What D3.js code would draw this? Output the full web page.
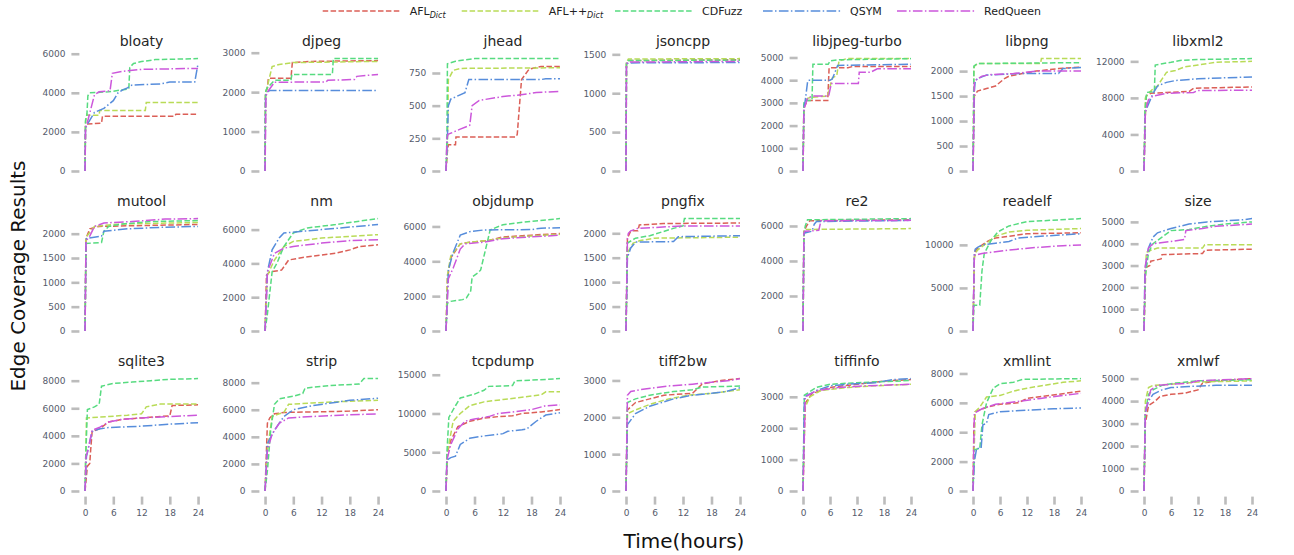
<!DOCTYPE html>
<html>
<head>
<meta charset="utf-8">
<script src="https://cdn.jsdelivr.net/npm/d3@7"></script>
<style>
	body { margin: 0; background: #fff; }
	text { font-family: "DejaVu Sans", sans-serif; }
</style>
</head>
<body>
<svg width="1294" height="555"></svg>
<script>
// legend / series
var fuzzers = ["AFL", "AFL++", "CDFuzz", "QSYM", "RedQueen"];
var fuzzerSub = ["Dict", "Dict", "", "", ""];
var colors = ["#db5f57", "#b9db57", "#57db80", "#578ddb", "#cc57db"];
var dashes = ["5.5,2.4", "5.5,2.4", "5.5,2.4", "9.6,2.4,1.5,2.4", "9.6,2.4,1.5,2.4"];

var targets = ["bloaty", "djpeg", "jhead", "jsoncpp", "libjpeg-turbo", "libpng", "libxml2",
	"mutool", "nm", "objdump", "pngfix", "re2", "readelf", "size",
	"sqlite3", "strip", "tcpdump", "tiff2bw", "tiffinfo", "xmllint", "xmlwf"];

var hourTicks = [0, 6, 12, 18, 24];

var yTicks = [
	[0, 2000, 4000, 6000], [0, 1000, 2000, 3000], [0, 250, 500, 750], [0, 500, 1000, 1500],
	[0, 1000, 2000, 3000, 4000, 5000], [0, 500, 1000, 1500, 2000], [0, 4000, 8000, 12000],
	[0, 500, 1000, 1500, 2000], [0, 2000, 4000, 6000], [0, 2000, 4000, 6000], [0, 500, 1000, 1500, 2000],
	[0, 2000, 4000, 6000], [0, 5000, 10000], [0, 1000, 2000, 3000, 4000, 5000],
	[0, 2000, 4000, 6000, 8000], [0, 2000, 4000, 6000, 8000], [0, 5000, 10000, 15000],
	[0, 1000, 2000, 3000], [0, 1000, 2000, 3000], [0, 2000, 4000, 6000, 8000], [0, 1000, 2000, 3000, 4000, 5000]
];

// [hour, edges] per fuzzer, order = fuzzers
var bloaty = [
	[[0,0],[0.1,2300],[0.4,2400],[3.5,2450],[3.7,2800],[19,2800],[19.3,2900],[24,2900]],
	[[0,0],[0.1,2500],[0.4,2900],[0.6,2850],[3,2850],[3.1,3100],[12.8,3100],[13,3500],[24,3500]],
	[[0,0],[0.1,2600],[0.4,2900],[0.6,3850],[1,4000],[5,4050],[9.3,4200],[9.5,5300],[10.3,5500],[12,5600],[15,5700],[24,5750]],
	[[0,0],[0.1,2200],[0.5,2400],[2,3000],[4,3200],[6,3600],[7,4000],[8,4150],[9,4250],[10,4400],[16,4450],[18,4550],[23.3,4550],[24,5500]],
	[[0,0],[0.1,2200],[0.4,2400],[2,3900],[3,4050],[5.3,4100],[5.8,5000],[8,5100],[12,5200],[24,5250]]
];
var djpeg = [
	[[0,0],[0.1,2000],[0.5,2100],[0.7,2350],[5.5,2350],[5.8,2750],[10,2780],[24,2800]],
	[[0,0],[0.1,2000],[0.4,2100],[1.5,2650],[3,2700],[6,2750],[24,2780]],
	[[0,0],[0.1,2000],[0.4,2100],[2,2300],[5.5,2300],[5.7,2450],[14.3,2450],[14.5,2850],[24,2850]],
	[[0,0],[0.1,1900],[0.4,2000],[1,2040],[24,2040]],
	[[0,0],[0.2,1900],[0.5,2000],[2,2250],[13,2260],[13.3,2300],[19,2320],[19.5,2400],[24,2450]]
];
var jhead = [
	[[0,0],[0.3,150],[0.5,200],[2,200],[2.1,260],[14.7,260],[15,280],[15.9,700],[17.5,780],[20,800],[24,800]],
	[[0,0],[0.3,200],[0.5,700],[1.5,770],[3,785],[24,790]],
	[[0,0],[0.2,250],[0.3,820],[2,840],[6,860],[24,860]],
	[[0,0],[0.2,150],[0.5,500],[1,550],[4,600],[4.8,700],[20,700],[21,705],[24,705]],
	[[0,0],[0.2,250],[0.4,280],[3,320],[5,350],[5.5,500],[7,540],[12,570],[15,580],[19,600],[24,610]]
];
var jsoncpp = [
	[[0,0],[0.1,1380],[0.5,1420],[24,1430]],
	[[0,0],[0.1,1400],[0.5,1440],[24,1445]],
	[[0,0],[0.1,1390],[0.5,1420],[24,1425]],
	[[0,0],[0.1,1370],[0.5,1390],[24,1395]],
	[[0,0],[0.1,1380],[0.5,1400],[24,1410]]
];
var libjpegTurbo = [
	[[0,0],[0.2,2800],[1,3100],[5.5,3100],[5.8,4550],[10,4550],[11,4600],[24,4600]],
	[[0,0],[0.2,2900],[1,3200],[2,3250],[5.5,3300],[6.5,4100],[7.5,4200],[8,4850],[9.7,4950],[24,4950]],
	[[0,0],[0.2,3000],[0.4,3100],[2,3100],[2.2,4700],[5.6,4700],[6,4850],[8,4900],[24,4950]],
	[[0,0],[0.2,2800],[0.5,3100],[1,3900],[1.2,4000],[6,4000],[6.5,4050],[7.7,4650],[24,4700]],
	[[0,0],[0.2,2700],[1,3200],[2,3300],[5.7,3300],[6.3,3850],[12.3,3850],[12.5,4350],[15,4350],[16.5,4500],[24,4500]]
];
var libpng = [
	[[0,0],[0.3,1500],[1,1600],[3,1650],[5,1700],[7,1850],[8,1900],[11,1950],[14,2000],[19,2050],[24,2080]],
	[[0,0],[0.2,2000],[0.3,2100],[1,2150],[15,2150],[15.2,2250],[24,2250]],
	[[0,0],[0.2,2100],[1,2150],[24,2170]],
	[[0,0],[0.3,1600],[0.5,1800],[1,1850],[3,1920],[10,1950],[19,1950],[20,2050],[24,2070]],
	[[0,0],[0.3,1800],[2,1900],[4,1930],[9,1950],[14,2000],[24,2000]]
];
var libxml2 = [
	[[0,0],[0.3,6000],[0.5,8200],[1.5,8500],[5,8600],[10,8700],[11,9050],[15,9100],[24,9200]],
	[[0,0],[0.3,8000],[1,8500],[2,9000],[3,9300],[5,10800],[7,11000],[9,11400],[12,11600],[16,11900],[24,12000]],
	[[0,0],[0.2,6500],[0.6,8600],[2.3,8700],[2.5,11600],[6,11900],[8,12100],[12,12200],[24,12300]],
	[[0,0],[0.3,6500],[2,8500],[3,9300],[5,9700],[7,9900],[12,10100],[24,10300]],
	[[0,0],[0.3,6500],[1,7800],[2,8200],[5,8500],[11,8600],[12,8800],[24,8850]]
];
var mutool = [
	[[0,0],[0.2,1900],[0.4,1950],[1,2100],[3,2150],[24,2190]],
	[[0,0],[0.2,1900],[0.4,1950],[2,2150],[5,2180],[8,2200],[24,2230]],
	[[0,0],[0.2,1800],[3.5,1820],[4,2050],[5,2150],[8,2200],[14,2250],[24,2270]],
	[[0,0],[0.2,1850],[0.3,1900],[3.5,1950],[4,2050],[9,2100],[16,2130],[24,2150]],
	[[0,0],[0.2,1850],[1,1950],[2,2150],[4,2220],[10,2250],[17,2300],[24,2310]]
];
var nm = [
	[[0,0],[0.3,3300],[1,3500],[3.5,3600],[5,4200],[8,4350],[12,4500],[15,4600],[18,4800],[20,5000],[24,5100]],
	[[0,0],[0.5,3300],[2,4200],[4,5000],[6,5300],[12,5500],[18,5600],[24,5700]],
	[[0,0],[0.5,1000],[1.5,3500],[2.5,4000],[4,5000],[6,5800],[9,6100],[15,6300],[20,6500],[24,6650]],
	[[0,0],[0.5,3500],[1.5,4800],[3,5500],[4,5800],[8,5900],[12,6000],[20,6200],[24,6300]],
	[[0,0],[0.5,3500],[2,4600],[4,4900],[6,5000],[12,5200],[18,5350],[24,5400]]
];
var objdump = [
	[[0,0],[0.3,3000],[1,4200],[3,5000],[5,5100],[9,5200],[12,5400],[18,5500],[24,5600]],
	[[0,0],[0.3,3200],[1,4300],[3,5000],[5,5100],[9,5200],[12,5350],[18,5450],[24,5550]],
	[[0,0],[0.3,1600],[1,1700],[3.5,1800],[4.3,1900],[5.2,2300],[5.5,3100],[6.8,3350],[7.3,3500],[9.3,5800],[12,6100],[18,6300],[24,6450]],
	[[0,0],[0.5,3500],[1.5,4500],[3,5500],[5,5700],[8,5800],[18,5820],[20,5900],[24,5920]],
	[[0,0],[0.5,3000],[1.5,3600],[3,4700],[4,5000],[8,5100],[12,5300],[18,5400],[24,5500]]
];
var pngfix = [
	[[0,0],[0.3,1900],[1,2050],[2.5,2050],[2.8,2170],[8,2200],[24,2210]],
	[[0,0],[0.3,1600],[1.5,1800],[3,1850],[6,1900],[24,1920]],
	[[0,0],[0.3,1800],[2,1900],[5,1950],[10,2100],[12,2150],[12.3,2300],[24,2300]],
	[[0,0],[0.3,1500],[1,1700],[2,1820],[10,1830],[11,1930],[24,1950]],
	[[0,0],[0.3,1900],[0.5,2000],[1,2050],[2.5,2100],[12,2150],[24,2150]]
];
var re2 = [
	[[0,0],[0.2,5700],[0.8,6000],[1.5,6300],[24,6350]],
	[[0,0],[0.2,5700],[0.4,5800],[24,5850]],
	[[0,0],[0.2,5500],[0.5,6000],[1,6350],[24,6420]],
	[[0,0],[0.2,5500],[0.4,5600],[2,5700],[2.5,6100],[3,6250],[24,6320]],
	[[0,0],[0.2,5600],[0.4,5700],[3.5,5750],[4,6300],[24,6320]]
];
var readelf = [
	[[0,0],[0.3,8500],[0.5,9300],[1.5,9800],[3.5,10500],[5,10800],[8,11000],[12,11300],[24,11400]],
	[[0,0],[0.3,8500],[0.5,9000],[1,9400],[2.5,10000],[5,11000],[8,11500],[12,11700],[24,11900]],
	[[0,0],[0.2,3000],[1.5,3000],[2,7000],[2.5,9000],[4,10500],[5.5,11500],[8,12200],[12,12700],[24,13050]],
	[[0,0],[0.3,9000],[0.5,9500],[1,9700],[2,10000],[5,10200],[8,10400],[10,10800],[15,11000],[24,11300]],
	[[0,0],[0.3,8800],[2,9000],[5,9200],[8,9400],[14,9700],[20,9900],[24,10000]]
];
var size = [
	[[0,0],[0.3,2900],[1.3,3000],[1.5,3200],[3.8,3300],[4,3500],[13,3550],[13.5,3700],[24,3750]],
	[[0,0],[0.5,3600],[1.5,3700],[3,3800],[13,3800],[13.5,3950],[24,3950]],
	[[0,0],[0.3,2500],[1,3600],[2,4000],[4,4300],[6,4600],[10,4650],[14,4800],[18,4900],[24,5000]],
	[[0,0],[0.2,2800],[1,3800],[2,4300],[3,4500],[6,4700],[10,4900],[14,5000],[22,5100],[24,5150]],
	[[0,0],[0.3,3000],[1,3800],[2,4000],[6,4100],[9,4200],[9.3,4600],[13,4700],[16,4800],[24,4900]]
];
var sqlite3 = [
	[[0,0],[0.5,1800],[1,2000],[1.2,3000],[1.5,4300],[3,4500],[5,5000],[8,5200],[12,5300],[18,5450],[18.5,6200],[24,6250]],
	[[0,0],[0.3,5300],[5,5400],[9,5500],[12,5600],[13,6100],[16,6300],[24,6300]],
	[[0,0],[0.1,2000],[0.5,5900],[2,6100],[3,6300],[3.5,7600],[6,7800],[10,7900],[14,8000],[18,8100],[24,8150]],
	[[0,0],[0.3,2500],[1.5,4300],[3,4500],[5,4600],[12,4700],[18,4850],[24,4950]],
	[[0,0],[0.2,2500],[0.5,2800],[1.5,4400],[3,4600],[5,5000],[8,5200],[12,5300],[18,5400],[24,5500]]
];
var strip = [
	[[0,0],[0.5,5000],[1,5400],[2,5700],[4,5800],[12,5850],[18,5900],[24,6000]],
	[[0,0],[0.5,3000],[1.5,5500],[3,5700],[4,5800],[5,6400],[10,6500],[16,6600],[24,6700]],
	[[0,0],[0.5,1500],[1.2,4500],[2,6400],[3,6800],[6,7000],[8,7200],[8.5,7600],[14,7800],[20,7900],[21,8300],[24,8300]],
	[[0,0],[0.5,3500],[2,4500],[4,5500],[6,6000],[10,6300],[14,6500],[18,6700],[24,6850]],
	[[0,0],[0.5,3000],[1.5,4200],[3,5000],[5,5400],[10,5500],[16,5600],[24,5700]]
];
var tcpdump = [
	[[0,0],[0.3,5000],[1,6500],[2.5,8300],[5,9000],[8,9400],[11,9600],[14,9700],[16,10000],[20,10200],[24,10500]],
	[[0,0],[0.3,5000],[1.5,9000],[3,10000],[5,11000],[8,11500],[12,11800],[16,12100],[20,12400],[21,12800],[24,12800]],
	[[0,0],[0.2,5000],[0.6,9500],[2,11000],[3,12000],[6,12500],[8,13000],[9,13500],[14,13600],[14.5,14200],[18,14300],[24,14500]],
	[[0,0],[0.2,4000],[1,4300],[2,4500],[3,6000],[5,6800],[8,7100],[12,7400],[13,7700],[16,7900],[17,8000],[19,9000],[21,9800],[24,10100]],
	[[0,0],[0.2,4000],[1,6000],[2.5,8000],[4,9000],[6,9300],[9,9600],[11,10000],[14,10200],[18,10500],[21,11000],[24,11100]]
];
var tiff2bw = [
	[[0,0],[0.3,2200],[2,2400],[5,2500],[8,2600],[14,2650],[16,2900],[20,3000],[24,3050]],
	[[0,0],[0.3,2100],[2,2200],[5,2350],[9,2500],[13,2600],[18,2650],[24,2750]],
	[[0,0],[0.3,2400],[2,2500],[5,2600],[10,2700],[14,2750],[16,2820],[24,2850]],
	[[0,0],[0.3,1800],[2,2100],[5,2300],[10,2500],[14,2600],[18,2650],[21,2700],[24,2800]],
	[[0,0],[0.3,2600],[1,2700],[3,2750],[6,2800],[9,2850],[14,2900],[18,2950],[22,3000],[24,3050]]
];
var tiffinfo = [
	[[0,0],[0.5,2800],[2,3100],[6,3300],[12,3400],[18,3500],[24,3550]],
	[[0,0],[0.3,2600],[1.5,3000],[4,3200],[10,3300],[16,3350],[24,3400]],
	[[0,0],[0.3,3050],[3,3300],[6,3400],[12,3450],[24,3520]],
	[[0,0],[0.3,3000],[3,3200],[6,3350],[10,3400],[16,3450],[20,3550],[24,3580]],
	[[0,0],[0.5,3000],[3,3200],[8,3300],[14,3350],[24,3400]]
];
var xmllint = [
	[[0,0],[0.2,4500],[0.5,5400],[3,5700],[6,5900],[10,6000],[12,6300],[17,6500],[24,6800]],
	[[0,0],[0.5,5400],[1.5,5700],[3,6400],[6,6500],[9,6800],[12,7000],[16,7200],[20,7400],[24,7500]],
	[[0,0],[0.3,2800],[1.5,2900],[2,4500],[3,6000],[4.5,7000],[6,7300],[9,7400],[11,7600],[24,7650]],
	[[0,0],[0.3,2000],[0.8,2900],[1.8,2900],[2.2,4500],[3,4600],[3.5,5200],[6,5400],[12,5500],[18,5600],[24,5650]],
	[[0,0],[0.3,5300],[2,5600],[5,5900],[10,6100],[15,6300],[20,6500],[24,6650]]
];
var xmlwf = [
	[[0,0],[0.3,3000],[1,3800],[2.5,4000],[3.5,4200],[6,4300],[9,4350],[12,4500],[13,4800],[16,4900],[24,5000]],
	[[0,0],[0.3,4000],[1,4600],[2,4700],[6,4750],[12,4850],[24,4900]],
	[[0,0],[0.3,3500],[1,4300],[2,4500],[4,4700],[7,4800],[12,4900],[24,4950]],
	[[0,0],[0.3,3500],[1,4000],[2,4300],[4,4500],[6,4600],[10,4650],[16,4700],[24,4700]],
	[[0,0],[0.3,3500],[1.5,4500],[3,4700],[6,4750],[10,4800],[12,4900],[24,5000]]
];

var coverage = [bloaty, djpeg, jhead, jsoncpp, libjpegTurbo, libpng, libxml2,
	mutool, nm, objdump, pngfix, re2, readelf, size,
	sqlite3, strip, tcpdump, tiff2bw, tiffinfo, xmllint, xmlwf];

// layout
var colLeft = [79.4, 259.4, 440.3, 620.3, 797.6, 967.6, 1138.6];
var colWidth = [124.3, 124.3, 125.4, 125.4, 118.8, 118.8, 118.8];
var rowTop = [53, 213, 373];
var panelH = 123.6;
var legendX = [322.7, 461.7, 615, 763, 897];

var svg = d3.select("svg");

function styleAxis(g){
	g.select(".domain").remove();
	g.selectAll(".tick line").attr("stroke", "#bcbcbc").attr("stroke-width", 2.6);
	g.selectAll(".tick text").attr("fill", "#555b6b").attr("font-size", 9)
		.attr("font-family", "DejaVu Sans, sans-serif");
}

targets.forEach(function(name, i){
	var r = Math.floor(i / 7), c = i % 7;
	var g = svg.append("g").attr("transform", "translate(" + colLeft[c] + "," + rowTop[r] + ")");

	var x = d3.scaleLinear().domain([-1.2, 25.2]).range([0, colWidth[c]]);
	var ymax = d3.max(coverage[i], function(s){ return d3.max(s, function(p){ return p[1]; }); });
	var y = d3.scaleLinear().domain([-0.05 * ymax, 1.05 * ymax]).range([panelH, 0]);

	g.append("g")
		.call(d3.axisLeft(y).tickValues(yTicks[i]).tickSize(8).tickPadding(6).tickFormat(d3.format("d")))
		.call(styleAxis);

	if (r == 2) {
		g.append("g").attr("transform", "translate(0," + panelH + ")")
			.call(d3.axisBottom(x).tickValues(hourTicks).tickSize(8).tickPadding(5))
			.call(styleAxis);
	}

	g.append("text")
		.attr("x", colWidth[c] / 2).attr("y", -7)
		.attr("text-anchor", "middle")
		.attr("font-size", 14).attr("fill", "#262626")
		.text(name);

	var line = d3.line()
		.x(function(d){ return x(d[0]); })
		.y(function(d){ return y(d[1]); });

	coverage[i].forEach(function(series, k){
		g.append("path")
			.attr("d", line(series))
			.attr("fill", "none")
			.attr("stroke", colors[k])
			.attr("stroke-width", 1.5)
			.attr("stroke-dasharray", dashes[k]);
	});
});

// legend
fuzzers.forEach(function(f, k){
	var lg = svg.append("g").attr("transform", "translate(" + legendX[k] + ",11)");
	lg.append("line").attr("x1", 0).attr("x2", 78).attr("y1", 0).attr("y2", 0)
		.attr("stroke", colors[k]).attr("stroke-width", 1.5)
		.attr("stroke-dasharray", dashes[k]);
	var t = lg.append("text").attr("x", 87).attr("y", 4)
		.attr("font-size", 11).attr("fill", "#222").text(f);
	if (fuzzerSub[k]) {
		t.append("tspan").attr("dy", 2.5).attr("font-size", 8)
			.attr("font-style", "italic").text(fuzzerSub[k]);
	}
});

// axis titles
svg.append("text")
	.attr("transform", "translate(25,276) rotate(-90)")
	.attr("text-anchor", "middle")
	.attr("font-size", 20).attr("fill", "#111")
	.text("Edge Coverage Results");

svg.append("text")
	.attr("x", 684).attr("y", 548)
	.attr("text-anchor", "middle")
	.attr("font-size", 20).attr("fill", "#111")
	.text("Time(hours)");
</script>
</body>
</html>
